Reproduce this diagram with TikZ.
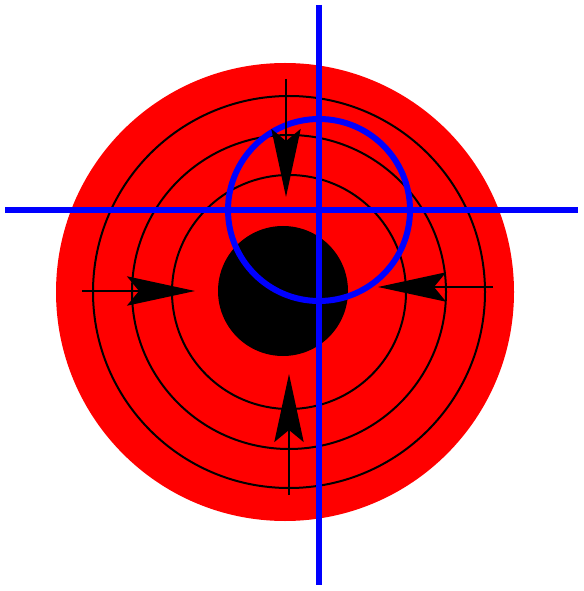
\documentclass[tikz,border=0pt]{standalone}
\usetikzlibrary{arrows.meta}

\begin{document}
\begin{tikzpicture}[
  x=0.75pt, y=-0.75pt,
  % pixel grid of the target, y downwards
  ring/.style={draw=black, line width=1.5pt},
  cross/.style={draw=blue, line width=4.5pt},
  arr/.style={-{Stealth[length=51pt, width=22pt, inset=9pt]}, line width=1.5pt}
]
\useasboundingbox (0,0) rectangle (583,591);

\coordinate (target) at (285,292);
\coordinate (rings) at (289,292);
\coordinate (bull) at (283,291);
\coordinate (aim) at (319,210);

\fill[red] (target) circle (229);
\fill[black] (bull) circle (65);
\foreach \r in {117,157,196}
  \draw[ring] (rings) circle (\r);

% crosshair
\coordinate (vtop) at (319,5);
\coordinate (vbot) at (319,585);
\coordinate (hleft) at (5,210);
\coordinate (hright) at (578,210);
\draw[cross] (vtop) -- (vbot);
\draw[cross] (hleft) -- (hright);
\draw[cross] (aim) circle (91);

% arrows towards the centre
\coordinate (n0) at (286,79);   \coordinate (n1) at (286,197);
\coordinate (w0) at (82,291);   \coordinate (w1) at (195,291);
\coordinate (e0) at (493,287);  \coordinate (e1) at (378,287);
\coordinate (s0) at (289,495);  \coordinate (s1) at (289,374);
\foreach \a/\b in {n0/n1, w0/w1, e0/e1, s0/s1}
  \draw[arr] (\a) -- (\b);
\end{tikzpicture}
\end{document}
